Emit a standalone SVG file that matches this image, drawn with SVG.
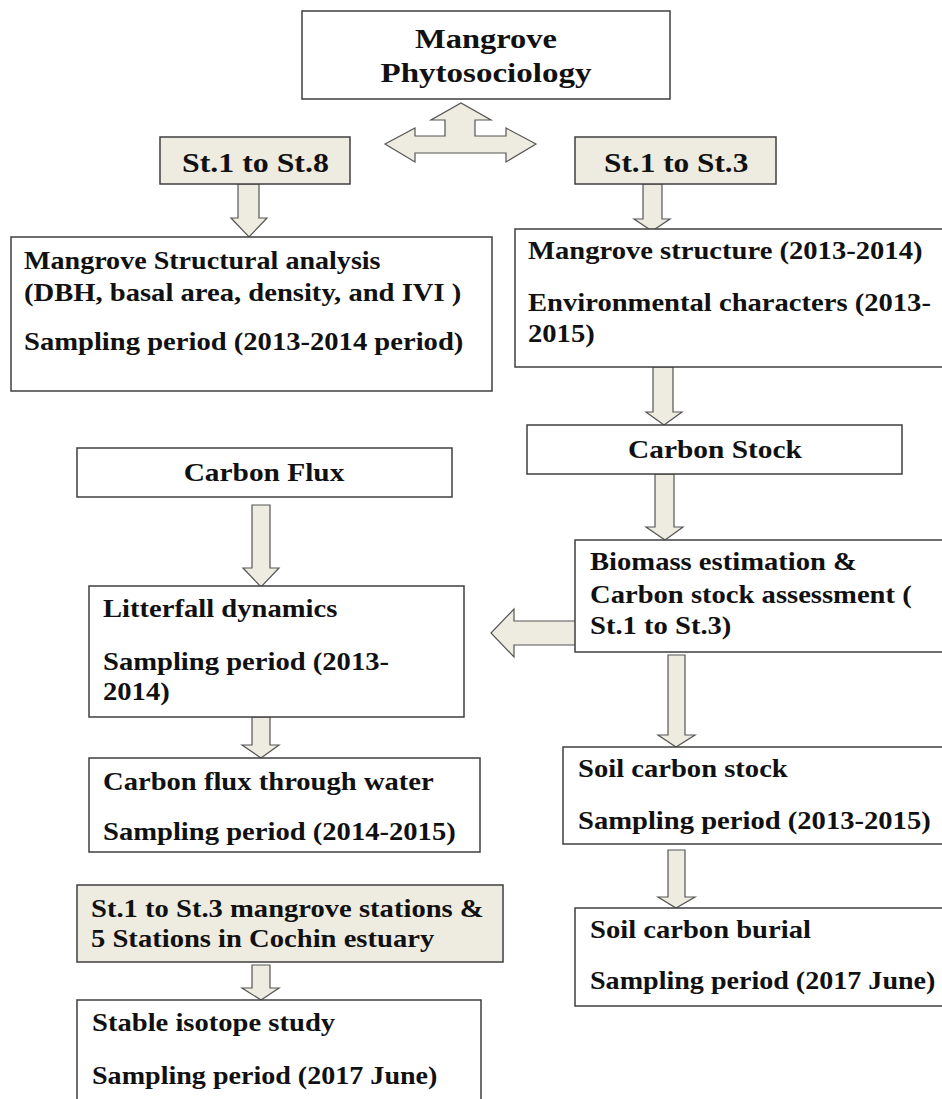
<svg xmlns="http://www.w3.org/2000/svg" width="942" height="1099" viewBox="0 0 942 1099">
<style>
.box{fill:#ffffff;stroke:#3f3f3f;stroke-width:1.5}
.tan{fill:#eeece1;stroke:#3f3f3f;stroke-width:1.5}
.arr{fill:#eeece1;stroke:#555555;stroke-width:1.2;stroke-linejoin:miter}
.big{font-size:28px}
.st{font-size:27px}
</style>
<rect width="942" height="1099" fill="#ffffff"/>
<g id="connectors">
<path class="arr" d="M385,144 L415,128 L415,136 L445,136 L445,120 L431,120 L461,103 L491,120 L475,120 L475,136 L506,136 L506,128 L536,144 L506,162 L506,153 L415,153 L415,162 Z"/>
<path class="arr" d="M238,184 L259,184 L259,218 L267,218 L249,237 L231,218 L238,218 Z"/>
<path class="arr" d="M643,184 L662,184 L662,219 L670,219 L652,231 L634,219 L643,219 Z"/>
<path class="arr" d="M653,367 L673,367 L673,412 L682,412 L664,425 L646,412 L653,412 Z"/>
<path class="arr" d="M655,474 L674,474 L674,527 L683,527 L665,540 L646,527 L655,527 Z"/>
<path class="arr" d="M252,505 L270,505 L270,568 L279,568 L261,587 L243,568 L252,568 Z"/>
<path class="arr" d="M252,717 L270,717 L270,745 L279,745 L261,758 L242,745 L252,745 Z"/>
<path class="arr" d="M668,655 L685,655 L685,735 L695,735 L676,747 L658,735 L668,735 Z"/>
<path class="arr" d="M668,850 L685,850 L685,897 L695,897 L676,908 L658,897 L668,897 Z"/>
<path class="arr" d="M252,965 L270,965 L270,988 L279,988 L261,1000 L242,988 L252,988 Z"/>
<path class="arr" d="M575,621 L514,621 L514,609 L491,633 L514,657 L514,645 L575,645"/>
</g>
<g font-family="Liberation Serif" font-weight="bold" font-size="26" fill="#111111">
<g id="n-phyto">
<rect class="box" x="302" y="11" width="368" height="88"/>
<text class="big" transform="translate(486,48) scale(1.16,1)" text-anchor="middle">Mangrove</text>
<text class="big" transform="translate(486,82) scale(1.18,1)" text-anchor="middle">Phytosociology</text>
</g>
<g id="n-st18">
<rect class="tan" x="160" y="137" width="190" height="47"/>
<text class="st" transform="translate(182,172) scale(1.18,1)">St.1 to St.8</text>
</g>
<g id="n-st13">
<rect class="tan" x="575" y="137" width="201" height="47"/>
<text class="st" transform="translate(604,172) scale(1.16,1)">St.1 to St.3</text>
</g>
<g id="n-structural">
<rect class="box" x="11" y="237" width="481" height="154"/>
<text transform="translate(24,269) scale(1.08,1)">Mangrove Structural analysis</text>
<text transform="translate(24,301) scale(1.1,1)">(DBH, basal area, density, and IVI )</text>
<text transform="translate(24,350) scale(1.1,1)">Sampling period (2013-2014 period)</text>
</g>
<g id="n-structure">
<rect class="box" x="515" y="229" width="440" height="138"/>
<text transform="translate(528,259) scale(1.1,1)">Mangrove structure  (2013-2014)</text>
<text transform="translate(528,311) scale(1.1,1)">Environmental characters (2013-</text>
<text transform="translate(528,342) scale(1.1,1)">2015)</text>
</g>
<g id="n-cstock">
<rect class="box" x="527" y="425" width="375" height="49"/>
<text transform="translate(715,458) scale(1.13,1)" text-anchor="middle">Carbon Stock</text>
</g>
<g id="n-cflux">
<rect class="box" x="77" y="448" width="375" height="49"/>
<text transform="translate(264,481) scale(1.13,1)" text-anchor="middle">Carbon Flux</text>
</g>
<g id="n-biomass">
<rect class="box" x="575" y="540" width="380" height="112"/>
<text transform="translate(590,570) scale(1.1,1)">Biomass estimation &amp;</text>
<text transform="translate(590,603) scale(1.1,1)">Carbon stock assessment (</text>
<text transform="translate(590,634) scale(1.1,1)">St.1 to St.3)</text>
</g>
<g id="n-litter">
<rect class="box" x="89" y="586" width="375" height="131"/>
<text transform="translate(103,617) scale(1.1,1)">Litterfall dynamics</text>
<text transform="translate(103,670) scale(1.1,1)">Sampling period (2013-</text>
<text transform="translate(103,700) scale(1.1,1)">2014)</text>
</g>
<g id="n-water">
<rect class="box" x="89" y="758" width="391" height="94"/>
<text transform="translate(103,790) scale(1.1,1)">Carbon flux through water</text>
<text transform="translate(103,840) scale(1.1,1)">Sampling period (2014-2015)</text>
</g>
<g id="n-soilstock">
<rect class="box" x="563" y="747" width="392" height="97"/>
<text transform="translate(578,777) scale(1.1,1)">Soil carbon stock</text>
<text transform="translate(578,829) scale(1.1,1)">Sampling period (2013-2015)</text>
</g>
<g id="n-stations">
<rect class="tan" x="77" y="885" width="426" height="77"/>
<text transform="translate(91,917) scale(1.1,1)">St.1 to St.3 mangrove stations &amp;</text>
<text transform="translate(91,947) scale(1.1,1)">5 Stations in Cochin estuary</text>
</g>
<g id="n-burial">
<rect class="box" x="575" y="908" width="380" height="98"/>
<text transform="translate(590,938) scale(1.1,1)">Soil carbon burial</text>
<text transform="translate(590,989) scale(1.08,1)">Sampling period (2017 June)</text>
</g>
<g id="n-isotope">
<rect class="box" x="77" y="1000" width="404" height="110"/>
<text transform="translate(92,1031) scale(1.1,1)">Stable isotope study</text>
<text transform="translate(92,1084) scale(1.08,1)">Sampling period (2017 June)</text>
</g>
</g>
</svg>
